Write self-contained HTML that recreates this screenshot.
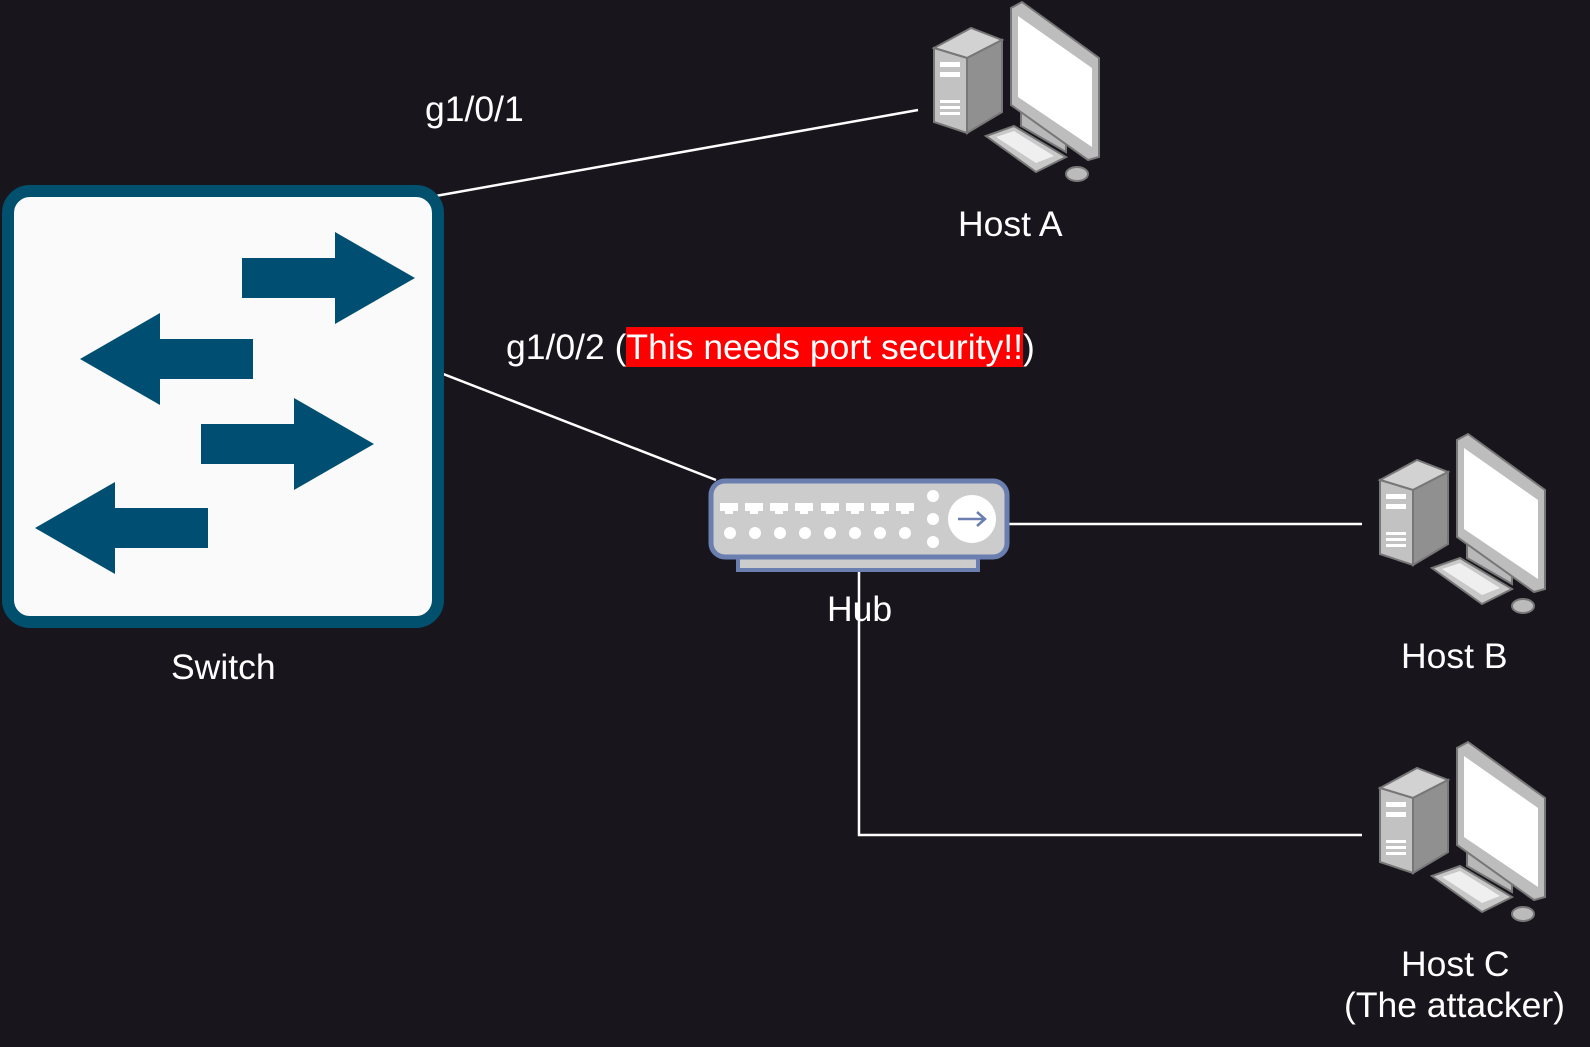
<!DOCTYPE html>
<html><head><style>
html,body{margin:0;padding:0;background:#18151d;}
body{width:1590px;height:1047px;position:relative;overflow:hidden;font-family:"Liberation Sans",sans-serif;color:#fff;}
.t{position:absolute;font-size:35.5px;white-space:nowrap;}
</style></head><body>
<svg width="1590" height="1047" style="position:absolute;left:0;top:0">
<defs>
<g id="pc">
  <polygon points="20,48 57,28 88,40 53,58" fill="#d2d2d2" stroke="#777" stroke-width="2"/>
  <polygon points="20,48 53,58 53,133 20,122" fill="#c2c2c2" stroke="#777" stroke-width="2"/>
  <polygon points="53,58 88,40 88,112 53,133" fill="#909090" stroke="#777" stroke-width="2"/>
  <rect x="26" y="62" width="20" height="5" fill="#fff"/>
  <rect x="26" y="72" width="20" height="5" fill="#fff"/>
  <rect x="26" y="100" width="20" height="3" fill="#fff"/>
  <rect x="26" y="106" width="20" height="3" fill="#fff"/>
  <rect x="26" y="112" width="20" height="3" fill="#fff"/>
  <polygon points="107,112 152,138 152,152 107,126" fill="#b8b8b8" stroke="#777" stroke-width="2"/>
  <polygon points="97,8 108,2 185,58 185,157 174,160 97,105" fill="#bdbdbd" stroke="#777" stroke-width="2"/>
  <polygon points="104,16 178,68 178,147 104,97" fill="#fff"/>
  <polygon points="72,136 100,126 152,157 122,172" fill="#c8c8c8" stroke="#777" stroke-width="2"/>
  <polygon points="82,137 100,131 140,156 122,163" fill="#fff" opacity="0.7"/>
  <ellipse cx="163" cy="174" rx="11" ry="7" fill="#bbb" stroke="#777" stroke-width="2"/>
</g>
<g id="ra"><polygon points="0,0 -80,-46 -80,-20 -173,-20 -173,20 -80,20 -80,46" fill="#004f72"/></g>
</defs>
<g stroke="#fff" stroke-width="2.5" fill="none">
<line x1="430" y1="197" x2="918" y2="110"/>
<line x1="433" y1="370" x2="716" y2="480"/>
<line x1="1008" y1="524" x2="1362" y2="524"/>
<polyline points="859,570 859,835 1362,835"/>
</g>
<rect x="8" y="191" width="430" height="431" rx="22" fill="#fafafa" stroke="#00506e" stroke-width="12"/>
<use href="#ra" transform="translate(415,278)"/>
<use href="#ra" transform="translate(80,359) scale(-1,1)"/>
<use href="#ra" transform="translate(374,444)"/>
<use href="#ra" transform="translate(35,528) scale(-1,1)"/>
<rect x="738" y="556" width="240" height="14" fill="#ccc" stroke="#6a7fb0" stroke-width="4"/>
<rect x="711" y="481" width="296" height="76" rx="14" fill="#ccc" stroke="#6a7fb0" stroke-width="5"/>
<g fill="#fff">
<g id="port"><rect x="720" y="503" width="18" height="8"/><rect x="725" y="510" width="8" height="4"/></g>
<use href="#port" x="25"/><use href="#port" x="50"/><use href="#port" x="75"/><use href="#port" x="101"/><use href="#port" x="126"/><use href="#port" x="151"/><use href="#port" x="176"/>
<circle cx="730" cy="533" r="6"/><circle cx="755" cy="533" r="6"/><circle cx="780" cy="533" r="6"/><circle cx="805" cy="533" r="6"/><circle cx="830" cy="533" r="6"/><circle cx="855" cy="533" r="6"/><circle cx="880" cy="533" r="6"/><circle cx="905" cy="533" r="6"/>
<circle cx="933" cy="496" r="6"/><circle cx="933" cy="519" r="6"/><circle cx="933" cy="542" r="6"/>
<circle cx="972" cy="519" r="24"/>
</g>
<path d="M958 519 H985 M977 512 L985 519 L977 526" stroke="#6a7fb0" stroke-width="2.5" fill="none"/>
<use href="#pc" transform="translate(914,0)"/>
<use href="#pc" transform="translate(1360,432)"/>
<use href="#pc" transform="translate(1360,740)"/>
</svg>
<div class="t" style="left:425px;top:89px">g1/0/1</div>
<div class="t" style="left:506px;top:327px">g1/0/2 (<span style="background:#f00">This needs port security!!</span>)</div>
<div class="t" style="left:958px;top:204px">Host A</div>
<div class="t" style="left:171px;top:647px">Switch</div>
<div class="t" style="left:827px;top:589px">Hub</div>
<div class="t" style="left:1401px;top:636px">Host B</div>
<div class="t" style="left:1401px;top:944px">Host C</div>
<div class="t" style="left:1344px;top:985px">(The attacker)</div>
</body></html>
